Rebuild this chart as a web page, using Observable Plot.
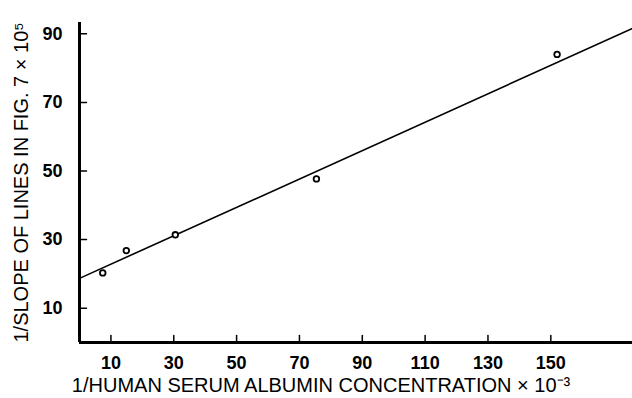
<!DOCTYPE html>
<html>
<head>
<meta charset="utf-8">
<script src="https://cdn.jsdelivr.net/npm/d3@7"></script>
<script src="https://cdn.jsdelivr.net/npm/@observablehq/plot@0.6"></script>
<style>
  html, body { margin: 0; padding: 0; background: #fff; }
  svg { display: block; }
</style>
</head>
<body>
<div id="chart"></div>
<script>
// Reciprocal albumin concentration (× 10^-3) against reciprocal slope (× 10^5)
const invAlbumin = [7.4, 14.9, 30.5, 75.4, 152];
const invSlope = [20.3, 26.8, 31.4, 47.7, 84];

// Fitted straight line: y = intercept + slope * x
const fitIntercept = 18.7;
const fitSlope = 0.414;

const xTicks = [10, 30, 50, 70, 90, 110, 130, 150];
const yTicks = [10, 30, 50, 70, 90];

const xTitle = "1/HUMAN SERUM ALBUMIN CONCENTRATION × 10⁻³";
const yTitle = "1/SLOPE OF LINES IN FIG. 7 × 10⁵";

const xDomain = [0, 176];
const yDomain = [0, 93.3];

const points = invAlbumin.map((x, i) => ({x, y: invSlope[i]}));
const fitLine = xDomain.map(x => ({x, y: fitIntercept + fitSlope * x}));

const font = "'Liberation Sans', Arial, Helvetica, sans-serif";

// a plain stroke used for the inward tick marks
const stub = {draw(context, l) { context.moveTo(0, 0); context.lineTo(0, -l); }};

const chart = Plot.plot({
  width: 632,
  height: 398,
  marginLeft: 79,
  marginRight: 0,
  marginTop: 22,
  marginBottom: 56,
  style: {fontFamily: font, fontSize: "17px", color: "#000", background: "#fff"},
  x: {domain: xDomain},
  y: {domain: yDomain},
  marks: [
    // tick labels
    Plot.axisX({ticks: xTicks, tickSize: 0, tickPadding: 14, fontWeight: "bold", fontSize: 18, label: null}),
    Plot.axisY({ticks: yTicks, tickSize: 0, tickPadding: 17, fontWeight: "bold", fontSize: 18, label: null}),
    // inward-pointing tick marks
    Plot.vector(xTicks, {x: d => d, y: yDomain[0], length: 7, anchor: "start", shape: stub, stroke: "#000", strokeWidth: 1.5}),
    Plot.vector(yTicks, {x: xDomain[0], y: d => d, length: 7, rotate: 90, anchor: "start", shape: stub, stroke: "#000", strokeWidth: 1.5}),
    // axis titles
    Plot.text([xTitle], {
      text: d => d, frameAnchor: "bottom", textAnchor: "middle", dx: -35, dy: 43,
      fontSize: 20, lineAnchor: "middle", letterSpacing: "1.2px"
    }),
    Plot.text([yTitle], {
      text: d => d, frameAnchor: "left", textAnchor: "middle", rotate: -90, dx: -58,
      fontSize: 20, lineAnchor: "middle", letterSpacing: "1.1px"
    }),
    // axis lines
    Plot.ruleX([0], {strokeWidth: 3}),
    Plot.ruleY([0], {strokeWidth: 3}),
    Plot.line(fitLine, {x: "x", y: "y", stroke: "#000", strokeWidth: 1.6, clip: true}),
    Plot.dot(points, {x: "x", y: "y", r: 2.8, stroke: "#000", strokeWidth: 1.8, fill: "#fff"})
  ]
});

document.getElementById("chart").appendChild(chart);
</script>
</body>
</html>
